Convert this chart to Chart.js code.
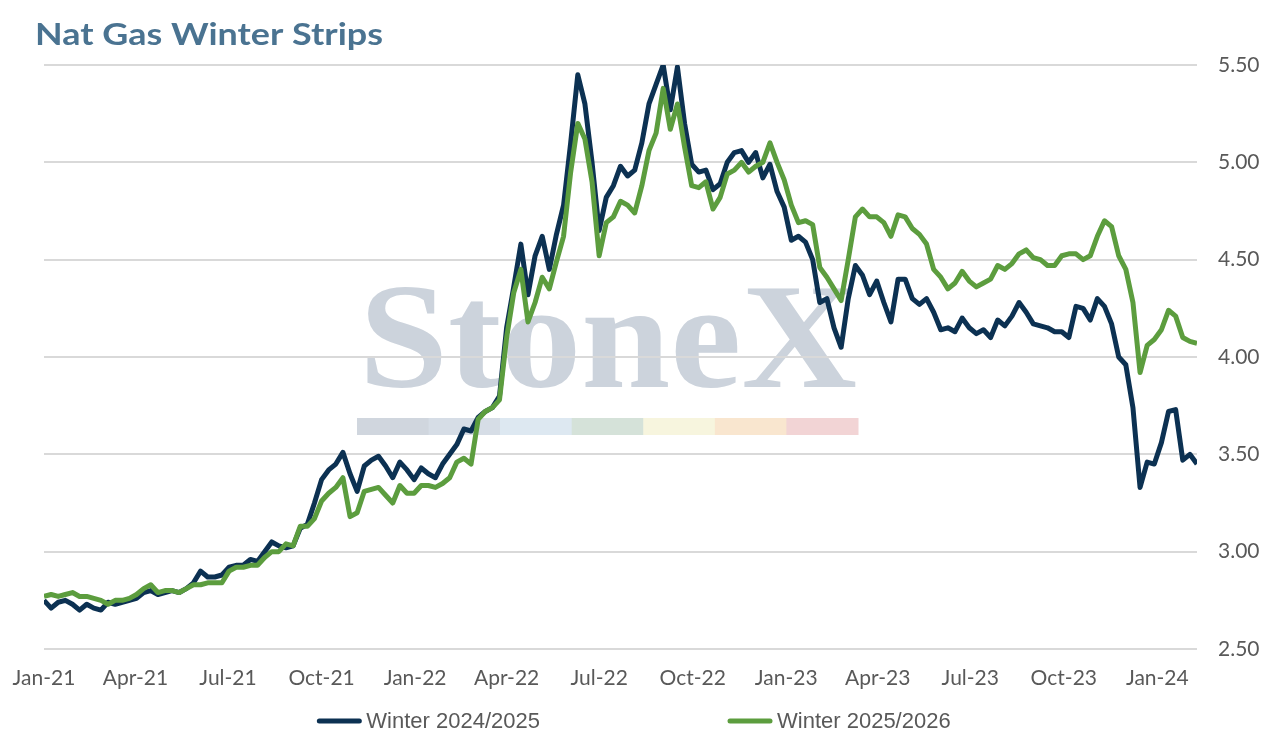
<!DOCTYPE html>
<html>
<head>
<meta charset="utf-8">
<script src="https://cdn.jsdelivr.net/npm/chart.js@4.4.1/dist/chart.umd.min.js"></script>
<style>
html,body{margin:0;padding:0;background:#fff;}
#wrap{width:1272px;height:743px;position:relative;}
</style>
</head>
<body>
<div id="wrap"><canvas id="c" width="1272" height="743"></canvas></div>
<script>
const chartTitle = "Nat Gas Winter Strips";
const seriesNames = ["Winter 2024/2025", "Winter 2025/2026"];
const tickDates = ["2021-01-01","2021-04-01","2021-07-01","2021-10-01","2022-01-01","2022-04-01","2022-07-01","2022-10-01","2023-01-01","2023-04-01","2023-07-01","2023-10-01","2024-01-01"];
const tickLabels = ["Jan-21","Apr-21","Jul-21","Oct-21","Jan-22","Apr-22","Jul-22","Oct-22","Jan-23","Apr-23","Jul-23","Oct-23","Jan-24"];
const yTicks = [2.5, 3.0, 3.5, 4.0, 4.5, 5.0, 5.5];

const dates = [
"2021-01-01","2021-01-08","2021-01-15","2021-01-22","2021-01-29",
"2021-02-05","2021-02-12","2021-02-19","2021-02-26",
"2021-03-05","2021-03-12","2021-03-19","2021-03-26",
"2021-04-02","2021-04-09","2021-04-16","2021-04-23","2021-04-30",
"2021-05-07","2021-05-14","2021-05-21","2021-05-28",
"2021-06-04","2021-06-11","2021-06-18","2021-06-25",
"2021-07-02","2021-07-09","2021-07-16","2021-07-23","2021-07-30",
"2021-08-06","2021-08-13","2021-08-20","2021-08-27",
"2021-09-03","2021-09-10","2021-09-17","2021-09-24",
"2021-10-01","2021-10-08","2021-10-15","2021-10-22","2021-10-29",
"2021-11-05","2021-11-12","2021-11-19","2021-11-26",
"2021-12-03","2021-12-10","2021-12-17","2021-12-24","2021-12-31",
"2022-01-07","2022-01-14","2022-01-21","2022-01-28",
"2022-02-04","2022-02-11","2022-02-18","2022-02-25",
"2022-03-04","2022-03-11","2022-03-18","2022-03-25",
"2022-04-01","2022-04-08","2022-04-15","2022-04-22","2022-04-29",
"2022-05-06","2022-05-13","2022-05-20","2022-05-27",
"2022-06-03","2022-06-10","2022-06-17","2022-06-24",
"2022-07-01","2022-07-08","2022-07-15","2022-07-22","2022-07-29",
"2022-08-05","2022-08-12","2022-08-19","2022-08-26",
"2022-09-02","2022-09-09","2022-09-16","2022-09-23","2022-09-30",
"2022-10-07","2022-10-14","2022-10-21","2022-10-28",
"2022-11-04","2022-11-11","2022-11-18","2022-11-25",
"2022-12-02","2022-12-09","2022-12-16","2022-12-23","2022-12-30",
"2023-01-06","2023-01-13","2023-01-20","2023-01-27",
"2023-02-03","2023-02-10","2023-02-17","2023-02-24",
"2023-03-03","2023-03-10","2023-03-17","2023-03-24","2023-03-31",
"2023-04-07","2023-04-14","2023-04-21","2023-04-28",
"2023-05-05","2023-05-12","2023-05-19","2023-05-26",
"2023-06-02","2023-06-09","2023-06-16","2023-06-23","2023-06-30",
"2023-07-07","2023-07-14","2023-07-21","2023-07-28",
"2023-08-04","2023-08-11","2023-08-18","2023-08-25",
"2023-09-01","2023-09-08","2023-09-15","2023-09-22","2023-09-29",
"2023-10-06","2023-10-13","2023-10-20","2023-10-27",
"2023-11-03","2023-11-10","2023-11-17","2023-11-24",
"2023-12-01","2023-12-08","2023-12-15","2023-12-22","2023-12-29",
"2024-01-05","2024-01-12","2024-01-19","2024-01-26","2024-02-02","2024-02-09"
];

const winter2425 = [
2.75,2.71,2.74,2.75,2.73,2.70,2.73,2.71,2.70,2.74,
2.73,2.74,2.75,2.76,2.79,2.80,2.78,2.79,2.80,2.79,
2.81,2.84,2.90,2.87,2.87,2.88,2.92,2.93,2.93,2.96,
2.95,3.00,3.05,3.03,3.02,3.03,3.12,3.14,3.25,3.37,
3.42,3.45,3.51,3.40,3.31,3.44,3.47,3.49,3.44,3.38,
3.46,3.42,3.37,3.43,3.40,3.38,3.45,3.50,3.55,3.63,
3.62,3.69,3.72,3.74,3.80,4.15,4.36,4.58,4.32,4.52,
4.62,4.45,4.63,4.78,5.10,5.45,5.30,5.00,4.65,4.82,
4.88,4.98,4.93,4.96,5.10,5.30,5.40,5.50,5.27,5.49,
5.20,4.99,4.95,4.96,4.86,4.89,5.00,5.05,5.06,5.00,
5.05,4.92,4.99,4.85,4.77,4.60,4.62,4.59,4.50,4.28,
4.30,4.15,4.05,4.30,4.47,4.42,4.32,4.39,4.28,4.18,
4.40,4.40,4.30,4.27,4.30,4.23,4.14,4.15,4.13,4.20,
4.15,4.12,4.14,4.10,4.19,4.16,4.21,4.28,4.23,4.17,
4.16,4.15,4.13,4.13,4.10,4.26,4.25,4.19,4.30,4.26,
4.17,4.00,3.96,3.74,3.33,3.46,3.45,3.56,3.72,3.73,
3.47,3.50,3.45
];

const winter2526 = [
2.77,2.78,2.77,2.78,2.79,2.77,2.77,2.76,2.75,2.73,
2.75,2.75,2.76,2.78,2.81,2.83,2.79,2.80,2.80,2.79,
2.81,2.83,2.83,2.84,2.84,2.84,2.90,2.92,2.92,2.93,
2.93,2.97,3.00,3.00,3.04,3.03,3.13,3.13,3.17,3.26,
3.30,3.33,3.38,3.18,3.20,3.31,3.32,3.33,3.29,3.25,
3.34,3.30,3.30,3.34,3.34,3.33,3.35,3.38,3.46,3.48,
3.45,3.68,3.72,3.74,3.78,4.10,4.33,4.45,4.18,4.28,
4.41,4.35,4.49,4.62,4.95,5.20,5.12,4.90,4.52,4.69,
4.72,4.80,4.78,4.74,4.88,5.06,5.15,5.38,5.17,5.30,
5.08,4.88,4.87,4.90,4.76,4.82,4.94,4.96,5.00,4.95,
4.98,5.00,5.10,5.00,4.91,4.78,4.69,4.70,4.68,4.46,
4.41,4.35,4.29,4.50,4.72,4.76,4.72,4.72,4.69,4.62,
4.73,4.72,4.66,4.63,4.58,4.45,4.41,4.35,4.38,4.44,
4.39,4.36,4.38,4.40,4.47,4.45,4.48,4.53,4.55,4.51,
4.50,4.47,4.47,4.52,4.53,4.53,4.50,4.52,4.62,4.70,
4.67,4.52,4.45,4.28,3.92,4.06,4.09,4.14,4.24,4.21,
4.10,4.08,4.07
];

const watermarkText = "StoneX";
const watermarkBar = ["#d0d6de","#d6dde6","#dde8f1","#d5e2d9","#f7f5de","#f9e6cf","#f2d4d5"];

const DAY = 86400000;
const t0 = Date.parse(dates[0]);
const toDay = d => (Date.parse(d) - t0) / DAY;
const xs = dates.map(toDay);
const tickDays = tickDates.map(toDay);

const navy = "#0c3152";
const green = "#5c9d3e";
const axisFont = "Lato";

const watermarkPlugin = {
  id: "watermark",
  beforeDraw(chart) {
    const ctx = chart.ctx;
    ctx.save();
    ctx.font = "bold 150px 'Liberation Serif'";
    ctx.textBaseline = "alphabetic";
    ctx.textAlign = "left";
    const w = ctx.measureText(watermarkText).width;
    const targetW = 498, left = 359;
    ctx.translate(left, 387);
    ctx.scale(targetW / w, 1);
    ctx.fillStyle = "#ccd3dc";
    ctx.fillText(watermarkText, 0, 0);
    ctx.restore();
    ctx.save();
    const bx = 357, bw = 501 / watermarkBar.length;
    watermarkBar.forEach((c, i) => {
      ctx.fillStyle = c;
      ctx.fillRect(bx + i * bw, 418, bw + 0.5, 17);
    });
    ctx.restore();
  }
};

const titleLegendPlugin = {
  id: "titleLegend",
  afterDraw(chart) {
    const ctx = chart.ctx;
    ctx.save();
    ctx.font = "bold 31px Lato";
    ctx.fillStyle = "#4a7391";
    ctx.textBaseline = "alphabetic";
    ctx.textAlign = "left";
    const tw = ctx.measureText(chartTitle).width;
    ctx.translate(35, 45);
    ctx.scale(348 / tw, 1);
    ctx.fillText(chartTitle, 0, 0);
    ctx.restore();

    ctx.save();
    ctx.font = "22px 'Liberation Sans'";
    ctx.textBaseline = "middle";
    ctx.textAlign = "left";
    const items = chart.data.datasets.map(ds => ({label: ds.label, color: ds.borderColor}));
    const lineW = 44, gap = 5, between = 188;
    let widths = items.map(it => lineW + gap + ctx.measureText(it.label).width);
    const total = widths.reduce((a, b) => a + b, 0) + between * (items.length - 1);
    let x = chart.width / 2 - total / 2 - 2;
    const y = 721;
    items.forEach((it, i) => {
      ctx.strokeStyle = it.color;
      ctx.lineWidth = 5;
      ctx.lineCap = "round";
      ctx.beginPath();
      ctx.moveTo(x + 2, y);
      ctx.lineTo(x + lineW - 2, y);
      ctx.stroke();
      ctx.fillStyle = "#595959";
      ctx.fillText(it.label, x + lineW + gap, y + 1);
      x += widths[i] + between;
    });
    ctx.restore();
  }
};

new Chart(document.getElementById("c"), {
  type: "line",
  data: {
    datasets: [
      {
        label: seriesNames[0],
        data: xs.map((x, i) => ({x: x, y: winter2425[i]})),
        borderColor: navy,
        backgroundColor: navy,
        borderWidth: 5,
        pointRadius: 0,
        tension: 0,
        borderJoinStyle: "round",
        order: 1
      },
      {
        label: seriesNames[1],
        data: xs.map((x, i) => ({x: x, y: winter2526[i]})),
        borderColor: green,
        backgroundColor: green,
        borderWidth: 5,
        pointRadius: 0,
        tension: 0,
        borderJoinStyle: "round",
        order: 0
      }
    ]
  },
  options: {
    responsive: false,
    animation: false,
    devicePixelRatio: 1,
    layout: { padding: { left: 44, top: 65, right: 0, bottom: 0 } },
    plugins: {
      legend: { display: false },
      title: { display: false },
      tooltip: { enabled: false }
    },
    scales: {
      x: {
        type: "linear",
        min: xs[0],
        max: xs[xs.length - 1],
        afterBuildTicks(scale) {
          scale.ticks = tickDays.map(v => ({ value: v }));
        },
        afterFit(scale) {
          scale.height = 94;
          scale.paddingLeft = 0;
          scale.paddingRight = 0;
        },
        ticks: {
          autoSkip: false,
          maxRotation: 0,
          padding: 17,
          color: "#595959",
          font: { family: axisFont, size: 21 },
          callback(value) {
            const i = tickDays.indexOf(value);
            return i >= 0 ? tickLabels[i] : "";
          }
        },
        grid: { display: false, drawTicks: false },
        border: { display: false }
      },
      y: {
        position: "right",
        min: yTicks[0],
        max: yTicks[yTicks.length - 1],
        afterBuildTicks(scale) {
          scale.ticks = yTicks.map(v => ({ value: v }));
        },
        afterFit(scale) { scale.width = 75; },
        ticks: {
          padding: 21,
          color: "#595959",
          font: { family: axisFont, size: 21 },
          callback(value) { return Number(value).toFixed(2); }
        },
        grid: { color: "#d9d9d9", lineWidth: 2, drawTicks: false },
        border: { display: false }
      }
    }
  },
  plugins: [watermarkPlugin, titleLegendPlugin]
});
</script>
</body>
</html>
